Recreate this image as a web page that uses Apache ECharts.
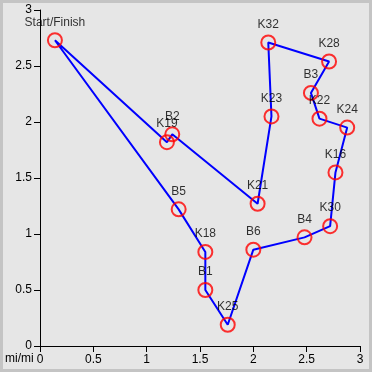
<!DOCTYPE html>
<html>
<head>
<meta charset="utf-8">
<script src="https://cdn.jsdelivr.net/npm/echarts@6/dist/echarts.min.js"></script>
<style>
html,body{margin:0;padding:0;background:#e6e6e6;}
#c{width:372px;height:372px;}
</style>
</head>
<body>
<div id="c"></div>
<script>
// Route order (closed loop back to start)
const stopNames = ['Start/Finish','K19','B2','K21','K23','K32','K28','B3','K22','K24','K16','K30','B4','B6','K25','B1','K18','B5'];
const stopX = [0.14, 1.19, 1.24, 2.04, 2.17, 2.14, 2.71, 2.54, 2.62, 2.88, 2.77, 2.72, 2.48, 2.00, 1.76, 1.55, 1.55, 1.30];
const stopY = [2.73, 1.82, 1.89, 1.27, 2.05, 2.71, 2.54, 2.26, 2.03, 1.95, 1.55, 1.07, 0.97, 0.86, 0.19, 0.50, 0.84, 1.22];
const axisTicks = [0, 0.5, 1, 1.5, 2, 2.5, 3];
const unitLabel = 'mi/mi';

const pts = stopNames.map((n, i) => [stopX[i], stopY[i], n]);
const routeLine = pts.concat([pts[0]]);

const FONT = "'Liberation Sans', Arial, sans-serif";
const chart = echarts.init(document.getElementById('c'));
const axisCommon = {
  type: 'value',
  min: axisTicks[0],
  max: axisTicks[axisTicks.length - 1],
  interval: 0.5,
  axisLine: {show: true, lineStyle: {color: '#000', width: 1}},
  axisTick: {show: true, inside: false, length: 6, lineStyle: {color: '#000'}},
  axisLabel: {color: '#000', fontSize: 12, fontFamily: FONT, margin: 8},
  splitLine: {show: false}
};
chart.setOption({
  animation: false,
  backgroundColor: '#e6e6e6',
  grid: {left: 40, right: 12, top: 10, bottom: 26, containLabel: false},
  xAxis: Object.assign({}, axisCommon, {axisLabel: Object.assign({}, axisCommon.axisLabel, {margin: 8})}),
  yAxis: Object.assign({}, axisCommon),
  graphic: [
    {type: 'rect', shape: {x: 1.5, y: 1.5, width: 369, height: 369},
     style: {fill: 'none', stroke: '#c4c4c4', lineWidth: 3}, silent: true, z: 100},
    {type: 'text', left: 5, top: 353,
     style: {text: unitLabel, fill: '#000', fontSize: 12, fontFamily: FONT}}
  ],
  series: [
    {
      type: 'line',
      data: routeLine,
      showSymbol: false,
      symbol: 'none',
      lineStyle: {color: '#0000ff', width: 2},
      z: 2
    },
    {
      type: 'scatter',
      data: pts,
      symbol: 'circle',
      symbolSize: 14,
      itemStyle: {color: 'rgba(0,0,0,0)', borderColor: '#ff0000', borderWidth: 2},
      label: {
        show: true, position: 'top', distance: 4,
        formatter: p => p.data[2],
        color: '#000', fontSize: 12, fontFamily: FONT
      },
      z: 3
    }
  ]
});
</script>
</body>
</html>
